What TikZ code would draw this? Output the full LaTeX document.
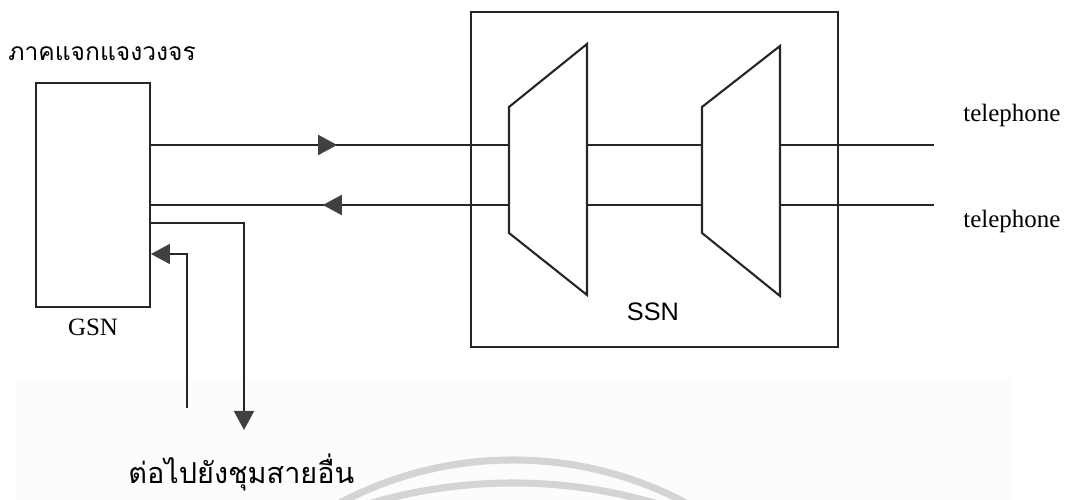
\documentclass[tikz,border=0pt]{standalone}
\usepackage{fontspec}
\setmainfont{Liberation Serif}
\newfontfamily\thaifont[Script=Thai]{Loma}
\newfontfamily\ssnfont{Liberation Sans}
\usepackage{tikz}
\usetikzlibrary{positioning,calc,arrows.meta,decorations.markings}

\begin{document}
\begin{tikzpicture}[
    every node/.style={font=\fontsize{14.2}{16}\selectfont, inner sep=0pt},
    box/.style={rectangle, draw=black!85, line width=1.1pt},
    switch/.style={draw=black!85, line width=1.2pt, line join=miter},
    wire/.style={draw=black!85, line width=1.1pt},
    tip/.style={-{Triangle[length=3.8mm, width=4mm, color=black!75]}},
    fwd/.style={postaction={decorate}, decoration={markings, mark=at position 0.52 with {\arrow{Triangle[length=3.8mm, width=4mm, color=black!75]}}}},
    thai/.style={font=\thaifont\fontsize{14}{16}\selectfont, anchor=west},
    phone/.style={anchor=west},
    stamp/.style={draw=black!17, line width=4pt},
]
\useasboundingbox (0,0) rectangle (21.38,10);

% scan background and watermark
\fill[black!1] (0.32,0) rectangle (20.26,2.44);
\begin{scope}
  \clip (0,0) rectangle (21.38,10);
  \draw[stamp] (10.26,-6.58) circle[radius=7.38];
  \draw[stamp] (10.26,-9.76) circle[radius=10.10];
\end{scope}

% levels of the two trunk lines
\coordinate (hi) at (0,7.10);
\coordinate (lo) at (0,5.90);

% GSN
\node[box, minimum width=2.28cm, minimum height=4.48cm] (gsn) at (1.86,6.10) {};
\node[below=0.22cm of gsn.south] (gsnlabel) {GSN};
\node[thai] (title) at (0.16,8.92) {ภาคแจกแจงวงจร};

% SSN
\node[box, minimum width=7.34cm, minimum height=6.70cm] (ssn) at (13.09,6.41) {};
\node[font=\ssnfont\fontsize{14.4}{16}\selectfont] (ssnlabel) at (13.06,3.76) {SSN};

% switching stages
\coordinate (A1) at (10.18,7.86);
\coordinate (A2) at (11.74,9.12);
\coordinate (A3) at (11.74,4.10);
\coordinate (A4) at (10.18,5.34);
\coordinate (B1) at (14.04,7.86);
\coordinate (B2) at (15.60,9.08);
\coordinate (B3) at (15.60,4.08);
\coordinate (B4) at (14.04,5.34);
\draw[switch] (A1) -- (A2) -- (A3) -- (A4) -- cycle;
\draw[switch] (B1) -- (B2) -- (B3) -- (B4) -- cycle;

% subscriber side
\coordinate (out1) at (18.68,7.10);
\coordinate (out2) at (18.68,5.90);
\node[phone] (tel1) at (19.26,7.68) {telephone};
\node[phone] (tel2) at (19.26,5.56) {telephone};

% other exchanges
\coordinate (to) at (4.88,1.40);
\coordinate (from) at (3.74,1.84);
\node[thai, font=\thaifont\fontsize{16.4}{18}\selectfont] (other) at (2.56,0.56) {ต่อไปยังชุมสายอื่น};

% Trunk lines
\draw[wire, fwd] (gsn.east |- hi) -- (A1 |- hi);
\draw[wire, fwd] (A1 |- lo) -- (gsn.east |- lo);
\draw[wire] (A2 |- hi) -- (B1 |- hi);
\draw[wire] (A2 |- lo) -- (B1 |- lo);
\draw[wire] (B2 |- hi) -- (out1);
\draw[wire] (B2 |- lo) -- (out2);

% Links to other exchanges
\draw[wire, tip] (gsn.east |- 0,5.54) -| (to);
\draw[wire, tip] (from) |- (gsn.east |- 0,4.92);

\end{tikzpicture}
\end{document}
